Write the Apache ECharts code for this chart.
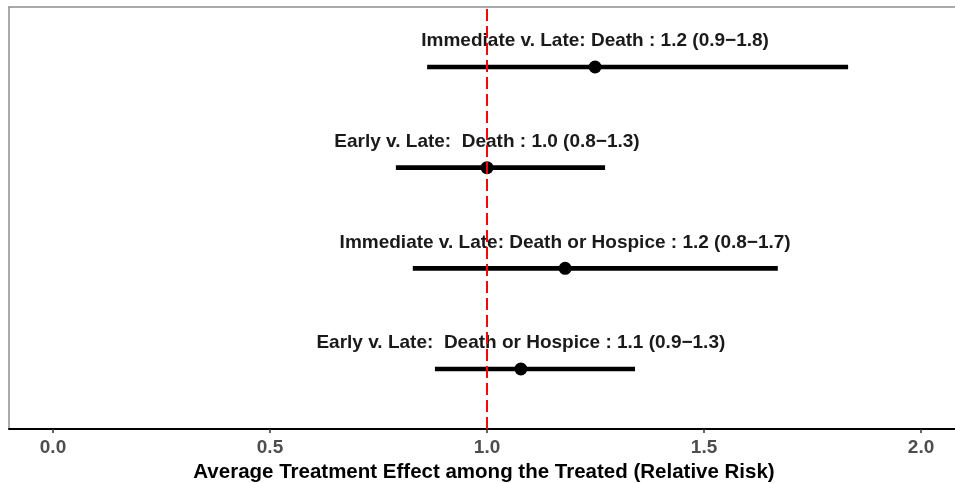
<!DOCTYPE html>
<html>
<head>
<meta charset="utf-8">
<script src="https://cdn.jsdelivr.net/npm/echarts@6/dist/echarts.min.js"></script>
<style>html,body{margin:0;padding:0;background:#fff;}#c{width:955px;height:483px;}</style>
</head>
<body>
<div id="c"></div>
<script>
const labels = [
  'Immediate v. Late: Death : 1.2 (0.9\u22121.8)',
  'Early v. Late:  Death : 1.0 (0.8\u22121.3)',
  'Immediate v. Late: Death or Hospice : 1.2 (0.8\u22121.7)',
  'Early v. Late:  Death or Hospice : 1.1 (0.9\u22121.3)'
];
const rows = [4, 3, 2, 1];
const estimates = [1.249, 1.0, 1.18, 1.078];
const lower = [0.862, 0.79, 0.829, 0.88];
const upper = [1.832, 1.272, 1.67, 1.341];
const refValue = 1.0;
const xTicks = [0, 0.5, 1.0, 1.5, 2.0];

const FONT = '"Liberation Sans", Arial, sans-serif';
const data = rows.map((r, i) => [r, estimates[i], lower[i], upper[i], i]);
const XMIN = -0.1014, XMAX = 2.0875;

const chart = echarts.init(document.getElementById('c'), null, {renderer: 'canvas'});
chart.setOption({
  animation: false,
  grid: {left: 9, right: -4, top: 7, bottom: 54, outerBoundsMode: 'none', containLabel: false, show: false},
  xAxis: [{
    type: 'value', min: XMIN, max: XMAX, interval: 0.5,
    splitLine: {show: false},
    axisLine: {show: true, onZero: false, lineStyle: {color: '#000', width: 2}},
    axisTick: {show: true, length: 4, lineStyle: {color: '#333', width: 1.5},
      customValues: xTicks},
    axisLabel: {customValues: xTicks, formatter: v => v.toFixed(1), color: '#4d4d4d', fontSize: 19, fontWeight: 'bold', fontFamily: FONT, margin: 9},
    name: 'Average Treatment Effect among the Treated (Relative Risk)',
    nameLocation: 'middle', nameGap: 32,
    nameTextStyle: {color: '#000', fontSize: 20.5, fontWeight: 'bold', fontFamily: FONT}
  }, {
    type: 'value', position: 'top', min: XMIN, max: XMAX,
    splitLine: {show: false}, axisTick: {show: false}, axisLabel: {show: false},
    axisLine: {show: true, onZero: false, lineStyle: {color: '#8f8f8f', width: 1.5}}
  }],
  yAxis: {
    type: 'value', min: 0.404, max: 4.596,
    splitLine: {show: false}, axisTick: {show: false}, axisLabel: {show: false},
    axisLine: {show: true, onZero: false, lineStyle: {color: '#8f8f8f', width: 1.5}}
  },
  series: [
    {
      type: 'custom',
      data: data,
      encode: {x: [1, 2, 3], y: 0},
      z: 2,
      renderItem: function (params, api) {
        const row = api.value(0);
        const p = api.coord([api.value(1), row]);
        const l = api.coord([api.value(2), row]);
        const h = api.coord([api.value(3), row]);
        const idx = api.value(4);
        return {
          type: 'group',
          children: [
            {type: 'line', shape: {x1: l[0], y1: l[1], x2: h[0], y2: h[1]}, style: {stroke: '#000', lineWidth: 4.7}},
            {type: 'circle', shape: {cx: p[0], cy: p[1], r: 6.5}, style: {fill: '#000'}},
            {type: 'text', x: p[0], y: p[1] - 26, style: {text: labels[idx], align: 'center', verticalAlign: 'middle', fill: '#1a1a1a', font: 'bold 19px ' + FONT}}
          ]
        };
      }
    },
    {
      type: 'line',
      data: [[refValue, 0.404], [refValue, 4.596]],
      symbol: 'none',
      z: 10,
      lineStyle: {color: '#ff0000', width: 2, type: [12, 5]}
    }
  ]
});
</script>
</body>
</html>
